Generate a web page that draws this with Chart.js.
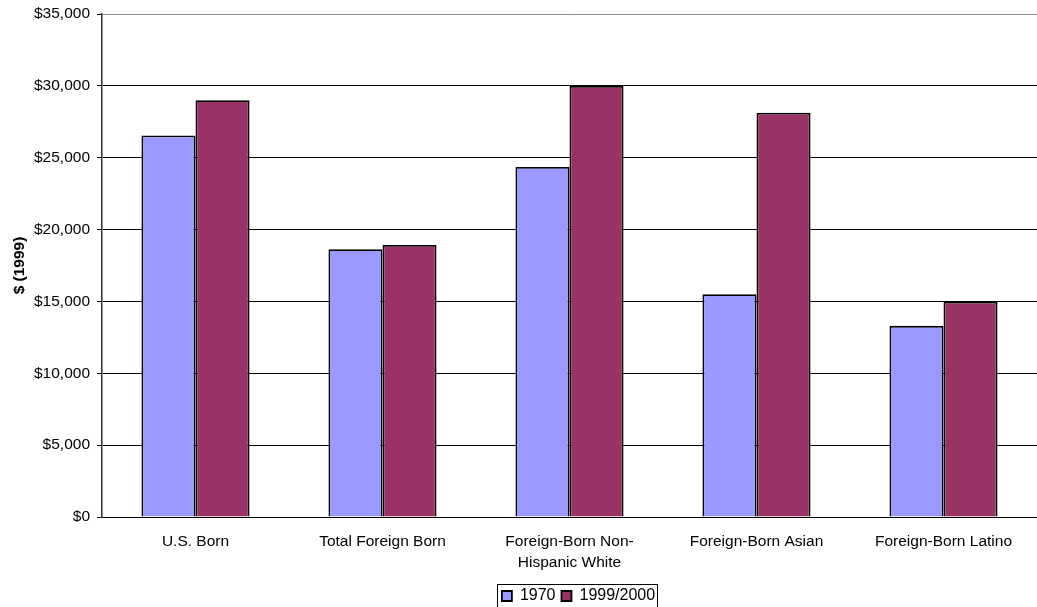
<!DOCTYPE html>
<html>
<head>
<meta charset="utf-8">
<script src="https://cdn.jsdelivr.net/npm/chart.js@4/dist/chart.umd.min.js"></script>
<style>
  html, body { margin: 0; padding: 0; background: #fff; }
  canvas { display: block; }
</style>
</head>
<body>
<canvas id="c" width="1037" height="607"></canvas>
<script>
// Median earnings by nativity group, in 1999 dollars
const categories = [
  "U.S. Born",
  "Total Foreign Born",
  ["Foreign-Born Non-", "Hispanic White"],
  "Foreign-Born Asian",
  "Foreign-Born Latino"
];
const earnings1970 = [26550, 18630, 24350, 15500, 13300];
const earnings2000 = [29000, 18930, 30000, 28130, 14980];
const seriesLabels = ["1970", "1999/2000"];
const yTicks = [0, 5000, 10000, 15000, 20000, 25000, 30000, 35000];

const font = "'Liberation Sans', Arial, sans-serif";
const fontSize = 15.5;

// Centres the legend under the plot area, nudges it down and frames it
const legendFrame = {
  id: 'legendFrame',
  beforeDraw(chart) {
    const l = chart.legend;
    if (!l || !l.legendHitBoxes) return;
    const area = chart.chartArea;
    const dx = Math.round((area.left + area.right) / 2 + 9 - (l.left + l.right) / 2);
    const dy = 7;
    l.left += dx; l.right += dx;
    l.top += dy; l.bottom += dy;
    l.legendHitBoxes.forEach(b => { b.left += dx; b.top += dy; });
  },
  afterDraw(chart) {
    const l = chart.legend;
    if (!l || !l.legendHitBoxes || !l.legendHitBoxes.length) return;
    const boxes = l.legendHitBoxes;
    let x0 = Infinity, y0 = Infinity, x1 = -Infinity, y1 = -Infinity;
    boxes.forEach(b => {
      x0 = Math.min(x0, b.left); y0 = Math.min(y0, b.top);
      x1 = Math.max(x1, b.left + b.width); y1 = Math.max(y1, b.top + b.height);
    });
    const ctx = chart.ctx;
    ctx.save();
    ctx.strokeStyle = '#000';
    ctx.lineWidth = 1;
    ctx.strokeRect(Math.round(x0 - 5) + 0.5, Math.round(y0 - 4) + 0.5,
                   Math.round(x1 - x0 + 7), Math.round(y1 - y0 + 14));
    ctx.restore();
  }
};

new Chart(document.getElementById('c'), {
  type: 'bar',
  data: {
    labels: categories,
    datasets: [
      {
        label: seriesLabels[0],
        data: earnings1970,
        backgroundColor: '#9999ff',
        borderColor: '#000',
        borderWidth: 1.8,
        categoryPercentage: 0.578,
        barPercentage: 1.0
      },
      {
        label: seriesLabels[1],
        data: earnings2000,
        backgroundColor: '#993366',
        borderColor: '#000',
        borderWidth: 1.8,
        categoryPercentage: 0.578,
        barPercentage: 1.0
      }
    ]
  },
  options: {
    responsive: false,
    animation: false,
    devicePixelRatio: 1,
    layout: { padding: { top: 0, right: 0, bottom: 0, left: 10 } },
    plugins: {
      tooltip: { enabled: false },
      legend: {
        position: 'bottom',
        labels: {
          font: { family: font, size: 16 },
          color: '#000',
          boxWidth: 10,
          boxHeight: 10,
          padding: 6,
          useBorderRadius: false
        }
      }
    },
    scales: {
      x: {
        grid: { display: false, drawTicks: false },
        border: { display: true, color: '#000', width: 1 },
        afterFit(scale) { scale.height = 58; },
        ticks: {
          font: { family: font, size: fontSize, lineHeight: 1.3 },
          color: '#000',
          padding: 15,
          maxRotation: 0,
          autoSkip: false
        }
      },
      y: {
        min: 0,
        max: 35000,
        afterBuildTicks(scale) {
          scale.ticks = yTicks.map(v => ({ value: v }));
        },
        afterFit(scale) {
          scale.width = 92;
          scale.paddingTop = 14;
        },
        grid: {
          color: ctx => (ctx.tick && ctx.tick.value === 35000) ? '#8c8c8c' : '#000',
          tickColor: '#000',
          tickLength: 5,
          lineWidth: 1
        },
        border: { display: true, color: '#333', width: 1.5 },
        ticks: {
          font: { family: font, size: fontSize },
          color: '#000',
          padding: 7,
          callback: v => '$' + Number(v).toLocaleString('en-US')
        },
        title: {
          display: true,
          text: '$ (1999)',
          font: { family: font, size: fontSize, weight: 'bold' },
          color: '#000',
          padding: { top: 0, bottom: 6 }
        }
      }
    }
  },
  plugins: [legendFrame]
});
</script>
</body>
</html>
